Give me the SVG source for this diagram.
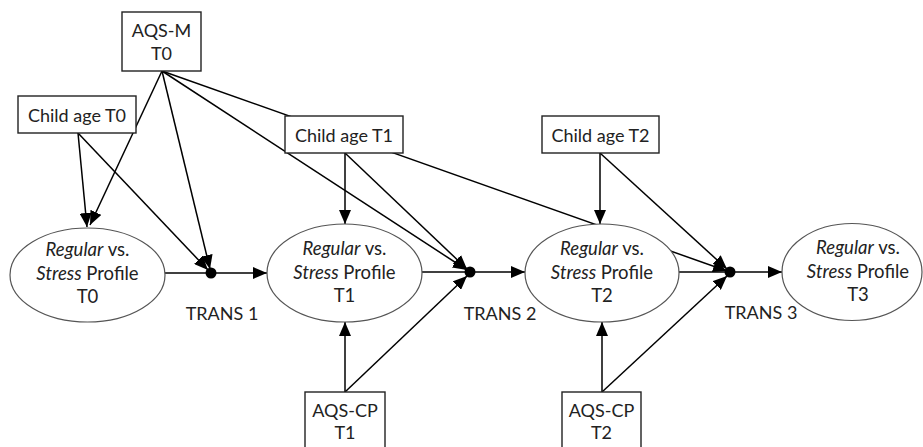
<svg xmlns="http://www.w3.org/2000/svg" width="923" height="447" viewBox="0 0 923 447">
<style>
text{font-family:Lato,"Open Sans","Liberation Sans",sans-serif;font-size:18px;fill:#222;text-anchor:middle}
.e{font-size:18.5px}
.box{fill:#fff;stroke:#222;stroke-width:1.4}
.ell{fill:#fff;stroke:#555;stroke-width:1.2}
.c{stroke:#000;stroke-width:1.5;fill:none}
.a{marker-end:url(#ah)}
.i{font-style:italic}
</style>
<defs>
<marker id="ah" markerUnits="userSpaceOnUse" markerWidth="15" markerHeight="12" refX="14" refY="6" orient="auto">
<path d="M0,0 L14,6 L0,12 z" fill="#000"/>
</marker>
</defs>
<rect width="923" height="447" fill="#fff"/>
<g id="connectors">
<line class="c a" x1="162" y1="71" x2="90" y2="225"/>
<line class="c a" x1="78" y1="133" x2="87" y2="227"/>
<line class="c a" x1="78" y1="133" x2="208" y2="270"/>
<line class="c a" x1="162" y1="71" x2="210" y2="269"/>
<line class="c a" x1="162" y1="71" x2="467" y2="270"/>
<line class="c a" x1="162" y1="71" x2="727" y2="271"/>
<line class="c a" x1="345" y1="153" x2="345" y2="224"/>
<line class="c a" x1="345" y1="153" x2="467" y2="269"/>
<line class="c a" x1="345" y1="392" x2="345" y2="322"/>
<line class="c a" x1="345" y1="392" x2="467" y2="276"/>
<line class="c a" x1="600" y1="153" x2="600" y2="224"/>
<line class="c a" x1="600" y1="153" x2="727" y2="269"/>
<line class="c a" x1="602" y1="392" x2="602" y2="322"/>
<line class="c a" x1="602" y1="392" x2="727" y2="276"/>
<line class="c" x1="165" y1="273" x2="211" y2="273"/>
<line class="c a" x1="211" y1="273" x2="267" y2="273"/>
<line class="c" x1="422" y1="272" x2="470" y2="272"/>
<line class="c a" x1="470" y1="272" x2="525" y2="272"/>
<line class="c" x1="679" y1="272" x2="730" y2="272"/>
<line class="c a" x1="730" y1="272" x2="782" y2="272"/>
</g>
<g id="trans1"><circle cx="211" cy="273" r="5.5" fill="#000"/><text x="222" y="320">TRANS 1</text></g>
<g id="trans2"><circle cx="470" cy="272" r="5.5" fill="#000"/><text x="500" y="320">TRANS 2</text></g>
<g id="trans3"><circle cx="730" cy="272" r="5.5" fill="#000"/><text x="761" y="319">TRANS 3</text></g>
<g id="aqsm-t0"><rect class="box" x="122" y="12" width="79" height="59"/><text x="161.5" y="37">AQS-M</text><text x="161.5" y="60">T0</text></g>
<g id="childage-t0"><rect class="box" x="18" y="96" width="118" height="37"/><text x="77" y="122">Child age T0</text></g>
<g id="childage-t1"><rect class="box" x="285" y="116" width="118" height="37"/><text x="344" y="142">Child age T1</text></g>
<g id="childage-t2"><rect class="box" x="542" y="116" width="117" height="37"/><text x="600.5" y="142">Child age T2</text></g>
<g id="aqscp-t1"><rect class="box" x="305" y="392" width="80" height="60"/><text x="345" y="417">AQS-CP</text><text x="345" y="439">T1</text></g>
<g id="aqscp-t2"><rect class="box" x="562" y="392" width="79" height="60"/><text x="601.5" y="417">AQS-CP</text><text x="601.5" y="439">T2</text></g>
<g id="profile-t0"><ellipse class="ell" cx="87.5" cy="275" rx="77.5" ry="47"/><text class="e" x="87.5" y="256"><tspan class="i">Regular</tspan> vs.</text><text class="e" x="87.5" y="280"><tspan class="i">Stress</tspan> Profile</text><text class="e" x="87.5" y="303">T0</text></g>
<g id="profile-t1"><ellipse class="ell" cx="344.5" cy="273" rx="77.5" ry="49"/><text class="e" x="344.5" y="255"><tspan class="i">Regular</tspan> vs.</text><text class="e" x="344.5" y="279"><tspan class="i">Stress</tspan> Profile</text><text class="e" x="344.5" y="302">T1</text></g>
<g id="profile-t2"><ellipse class="ell" cx="602" cy="273" rx="77" ry="49"/><text class="e" x="602" y="255"><tspan class="i">Regular</tspan> vs.</text><text class="e" x="602" y="279"><tspan class="i">Stress</tspan> Profile</text><text class="e" x="602" y="302">T2</text></g>
<g id="profile-t3"><ellipse class="ell" cx="852" cy="272" rx="70" ry="48.5"/><text class="e" x="858" y="254"><tspan class="i">Regular</tspan> vs.</text><text class="e" x="858" y="278"><tspan class="i">Stress</tspan> Profile</text><text class="e" x="858" y="301">T3</text></g>
</svg>
